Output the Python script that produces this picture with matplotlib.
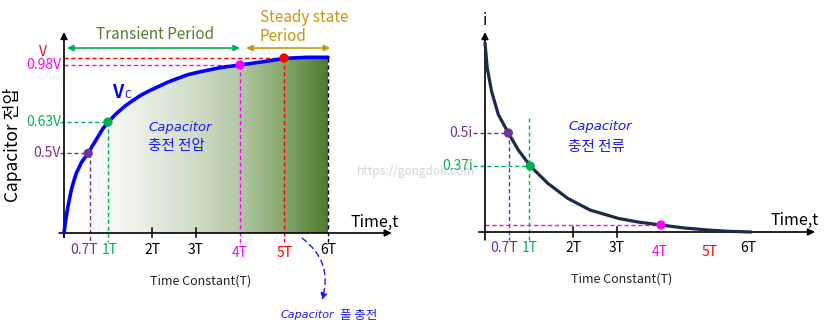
import numpy as np
import matplotlib
matplotlib.use('Agg')
import matplotlib.pyplot as plt
from matplotlib.colors import LinearSegmentedColormap
from matplotlib.patches import Polygon

plt.rcParams['font.family'] = ['Noto Sans CJK KR', 'DejaVu Sans']
ITALIC_FAM = ['DejaVu Sans', 'Noto Sans CJK KR']

# charging voltage curve (time in T, voltage as fraction of V)
v_t = [0, 0.04, 0.075, 0.12, 0.166, 0.22, 0.279, 0.4, 0.55, 0.65, 0.773,
       0.88, 1.0, 1.18, 1.38, 1.57, 1.76, 1.95, 2.14, 2.36, 2.59, 2.82, 3.07,
       3.55, 4.0, 4.53, 5.02, 5.52, 6.0]
v_val = [0, 0.075, 0.131, 0.19, 0.246, 0.295, 0.341, 0.405, 0.455, 0.50,
         0.550, 0.595, 0.633, 0.68, 0.724, 0.758, 0.789, 0.814, 0.836, 0.862,
         0.884, 0.905, 0.92, 0.945, 0.96, 0.979, 0.998, 1.004, 1.004]

# charging current curve (time in T, current as fraction of i)
i_t = [0, 0.052, 0.152, 0.302, 0.53, 0.757, 1.03, 1.425, 1.88, 2.39, 3.03,
       3.5, 4.0, 4.5, 5.04, 5.5, 6.05]
i_val = [1.0, 0.866, 0.742, 0.622, 0.524, 0.434, 0.349, 0.258, 0.178, 0.116,
         0.072, 0.052, 0.037, 0.022, 0.011, 0.004, 0.0]

# marked points
v_mark_t = [0.55, 1.0, 4.0, 5.0]
v_mark_v = [0.455, 0.634, 0.96, 1.0]
v_mark_lbl = ['0.5V', '0.63V', '0.98V', 'V']
i_mark_t = [0.53, 1.03, 4.0]
i_mark_v = [0.524, 0.349, 0.037]
i_mark_lbl = ['0.5i', '0.37i']

tick_lbl = ['0.7T', '1T', '2T', '3T', '4T', '5T', '6T']
v_tick_x = [0.45, 1.05, 2, 3, 4, 5.02, 6]
i_tick_x = [0.43, 1.02, 2, 3, 3.98, 5.11, 5.98]

PURPLE = '#7030a0'
GREEN = '#00b050'
MAGENTA = '#ff00ff'
RED = '#ff0000'
BLUE_TXT = '#1a1aff'
tick_col = [PURPLE, GREEN, 'black', 'black', MAGENTA, RED, 'black']
mark_col = [PURPLE, GREEN, MAGENTA, RED]

W, H = 826, 330
fig = plt.figure(figsize=(W / 100, H / 100), dpi=100)


def make_axes(x0, y0, tpx, upx):
    # full-figure axes where data (0,0) sits at pixel (x0, y0)
    ax = fig.add_axes([0, 0, 1, 1])
    ax.set_xlim(-x0 / tpx, (W - x0) / tpx)
    ax.set_ylim((y0 - H) / upx, y0 / upx)
    ax.axis('off')
    ax.patch.set_alpha(0)
    return ax


def arrow(ax, p0, p1, color='black', style='-|>', lw=1.2, ms=10):
    ax.annotate('', xy=p1, xytext=p0,
                arrowprops=dict(arrowstyle=style, color=color, lw=lw,
                                mutation_scale=ms, shrinkA=0, shrinkB=0))


def dash(ax, xs, ys, color, lw=1.0):
    ax.plot(xs, ys, color=color, lw=lw, ls=(0, (3, 2)))


def two_line(ax, x, y1, y2, top, bottom):
    # italic latin line on top, korean line below
    ax.text(x, y1, top, color=BLUE_TXT, fontsize=9.5, style='italic',
            family=ITALIC_FAM, ha='left', va='center')
    ax.text(x, y2, bottom, color=BLUE_TXT, fontsize=10.5, ha='left',
            va='center')


# ---------------- left: capacitor voltage ----------------
ax1 = make_axes(64, 233, 44, 175)

grad = LinearSegmentedColormap.from_list('g', [
    (0.0, '#ffffff'), (0.17, '#f8f9f6'), (0.33, '#e6ebe0'), (0.5, '#d0dcc6'),
    (0.67, '#b2c6a4'), (0.83, '#87a66d'), (1.0, '#4c7a31')])
img = ax1.imshow(np.linspace(0, 1, 256)[None, :], cmap=grad, aspect='auto',
                 extent=[0, 6, 0, 1.1], zorder=1)
poly = Polygon(list(zip(v_t, v_val)) + [(6, 0), (0, 0)], closed=True,
               transform=ax1.transData, facecolor='none', edgecolor='none')
ax1.add_patch(poly)
img.set_clip_path(poly)
ax1.set_xlim(-64 / 44, (W - 64) / 44)
ax1.set_ylim((233 - H) / 175, 233 / 175)

low = -0.05
dash(ax1, [0, 6], [1.0, 1.0], RED)
dash(ax1, [0, 4], [0.96, 0.96], MAGENTA)
dash(ax1, [-0.09, 1], [0.634, 0.634], GREEN)
dash(ax1, [-0.09, 0.55], [0.455, 0.455], PURPLE)
dash(ax1, [0.6, 0.6], [0.455, low], PURPLE)
dash(ax1, [1, 1], [0.634, low], GREEN)
dash(ax1, [4, 4], [0.96, low], MAGENTA)
dash(ax1, [5, 5], [1.0, low], RED)
dash(ax1, [6, 6], [1.0, low], 'black')

ax1.plot(v_t, v_val, color='#0000ff', lw=2.6, solid_capstyle='round',
         solid_joinstyle='round', zorder=4)
ax1.scatter(v_mark_t, v_mark_v, c=mark_col, s=32, zorder=5)

arrow(ax1, (0, -0.023), (0, 1.149))
arrow(ax1, (-0.11, 0), (7.45, 0))
for tx in [2, 3]:
    ax1.plot([tx, tx], [-0.023, 0.029], color='black', lw=1.1)
ax1.plot([0, 0], [-0.023, 0], color='black', lw=1.1)

for lbl, vy, c in zip(v_mark_lbl[:3], v_mark_v[:3], [PURPLE, GREEN, MAGENTA]):
    ax1.text(-0.07, vy, lbl, color=c, fontsize=10, ha='right', va='center')
ax1.text(-0.39, 1.034, v_mark_lbl[3], color=RED, fontsize=10, ha='right',
         va='center')

for x, lbl, c in zip(v_tick_x, tick_lbl, tick_col):
    yy = -0.114 if lbl in ('4T', '5T') else -0.097
    ax1.text(x, yy, lbl, color=c, fontsize=10, ha='center', va='center')

ax1.text(-1.18, 0.503, 'Capacitor 전압', rotation=90, fontsize=12.5,
         ha='center', va='center')
ax1.text(6.5, 0.063, 'Time,t', fontsize=11.5, ha='left', va='center')
ax1.text(3.11, -0.274, 'Time Constant(T)', fontsize=9, ha='center',
         va='center', color='#222222')

arrow(ax1, (0.07, 1.057), (4.0, 1.057), color=GREEN, style='<|-|>', lw=1.2, ms=9)
arrow(ax1, (4.14, 1.057), (6.05, 1.057), color='#c8960c', style='<|-|>',
      lw=1.2, ms=9)
ax1.text(2.07, 1.137, 'Transient Period', color='#5b7b2e', fontsize=11,
         ha='center', va='center')
ax1.text(4.45, 1.177, 'Steady state\nPeriod', color='#c8960c', fontsize=11,
         ha='left', va='center', linespacing=1.1)

ax1.text(1.22, 0.803, 'V', color='#0000ff', fontsize=13, fontweight='bold',
         ha='center', va='center')
ax1.text(1.44, 0.789, 'C', color='#0000ff', fontsize=7.5, ha='center',
         va='center')
two_line(ax1, 1.91, 0.6, 0.497, 'Capacitor', '충전 전압')

ax1.annotate('', xy=(5.86, -0.383), xytext=(5.41, -0.029),
             arrowprops=dict(arrowstyle='-|>', color=BLUE_TXT, lw=1.0,
                             ls=(0, (4, 3)), mutation_scale=10,
                             connectionstyle='arc3,rad=-0.35',
                             shrinkA=0, shrinkB=0))
ax1.text(4.91, -0.469, 'Capacitor', color=BLUE_TXT, fontsize=8,
         style='italic', family=ITALIC_FAM, ha='left', va='center')
ax1.text(6.28, -0.469, '풀 충전', color=BLUE_TXT, fontsize=9,
         ha='left', va='center')
ax1.text(6.66, 0.349, 'https://gongdoli.com', color='#d4d4d4', fontsize=8.5,
         ha='left', va='center')

# ---------------- right: capacitor current ----------------
ax2 = make_axes(485, 232, 44, 189)

dash(ax2, [-0.27, 0.53], [0.524, 0.524], PURPLE)
dash(ax2, [0.55, 0.55], [0.524, -0.042], PURPLE)
dash(ax2, [1, 1], [0.603, -0.042], GREEN)
dash(ax2, [-0.27, 1.03], [0.349, 0.349], GREEN)
dash(ax2, [0, 4], [0.037, 0.037], MAGENTA)

ax2.plot(i_t, i_val, color='#1c2b4a', lw=2.3, solid_capstyle='round',
         solid_joinstyle='round', zorder=4)
ax2.scatter(i_mark_t, i_mark_v, c=[PURPLE, GREEN, MAGENTA], s=32, zorder=5)

arrow(ax2, (0, -0.042), (0, 1.058))
arrow(ax2, (-0.14, 0), (7.5, 0))
for tx in [2, 3]:
    ax2.plot([tx, tx], [-0.025, 0.027], color='black', lw=1.1)

for lbl, iy, c in zip(i_mark_lbl, i_mark_v[:2], [PURPLE, GREEN]):
    ax2.text(-0.28, iy, lbl, color=c, fontsize=10, ha='right', va='center')

for x, lbl, c in zip(i_tick_x, tick_lbl, tick_col):
    yy = -0.106 if lbl in ('4T', '5T') else -0.085
    ax2.text(x, yy, lbl, color=c, fontsize=10, ha='center', va='center')

ax2.text(0, 1.12, 'i', fontsize=11, ha='center', va='center')
ax2.text(6.48, 0.063, 'Time,t', fontsize=11.5, ha='left', va='center')
ax2.text(3.11, -0.249, 'Time Constant(T)', fontsize=9, ha='center',
         va='center', color='#222222')
two_line(ax2, 1.89, 0.556, 0.45, 'Capacitor', '충전 전류')

fig.savefig('out.png', dpi=100)
